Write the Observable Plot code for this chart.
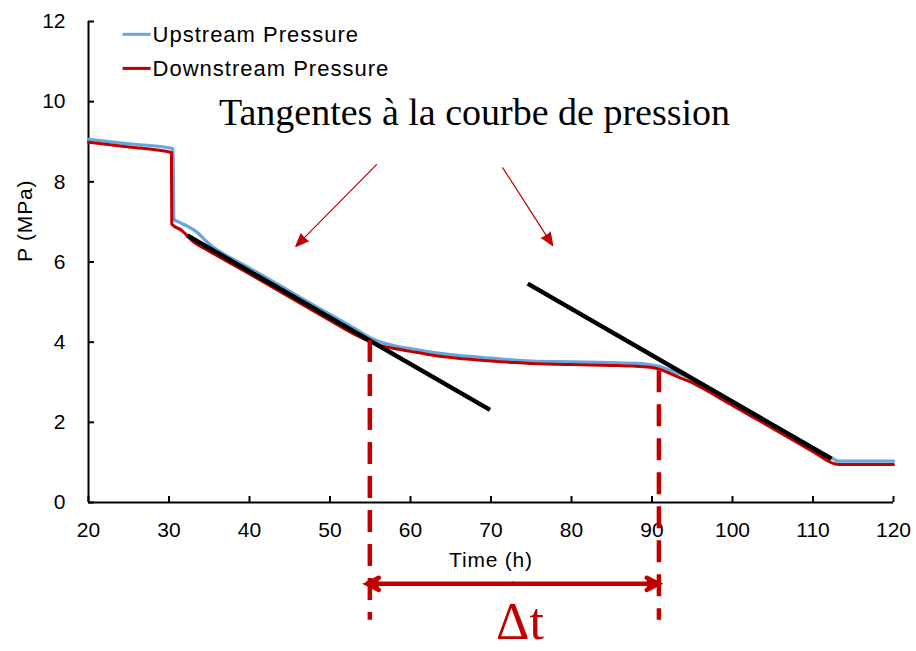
<!DOCTYPE html>
<html>
<head>
<meta charset="utf-8">
<script src="https://cdn.jsdelivr.net/npm/d3@7"></script>
<script src="https://cdn.jsdelivr.net/npm/@observablehq/plot@0.6"></script>
<style>
  html, body { margin: 0; padding: 0; background: #fff; }
  #chart svg { display: block; }
</style>
</head>
<body>
<div id="chart"></div>
<script>
// ---- Data ----
const seriesNames = ["Upstream Pressure", "Downstream Pressure"];

const upTime = [20, 25, 30.5, 30.6, 31.2, 32.2, 33.3, 35, 40, 45, 50, 53, 55, 56, 57, 58, 60, 62, 65, 67, 70, 73, 75, 80, 85, 88, 90, 91, 92, 93, 94, 95, 96, 100, 105, 110, 112.5, 113.2, 120];
const upP    = [9.06, 8.95, 8.83, 7.07, 7.0, 6.9, 6.77, 6.45, 5.85, 5.27, 4.69, 4.35, 4.11, 4.02, 3.96, 3.91, 3.84, 3.77, 3.69, 3.65, 3.60, 3.55, 3.53, 3.51, 3.49, 3.47, 3.43, 3.39, 3.32, 3.24, 3.17, 3.09, 2.98, 2.52, 1.95, 1.37, 1.09, 1.03, 1.03];

const downTime = [20, 25, 30.3, 30.35, 31.5, 33, 35, 40, 45, 50, 53, 55, 56, 57, 58, 60, 62, 65, 67, 70, 73, 75, 80, 85, 88, 90, 91, 92, 93, 94, 95, 96, 100, 105, 110, 112.6, 113.2, 120];
const downP    = [8.99, 8.87, 8.73, 6.94, 6.80, 6.51, 6.27, 5.70, 5.12, 4.54, 4.20, 4.01, 3.93, 3.88, 3.84, 3.77, 3.70, 3.62, 3.58, 3.53, 3.49, 3.47, 3.44, 3.42, 3.40, 3.37, 3.32, 3.24, 3.15, 3.07, 2.99, 2.88, 2.42, 1.85, 1.27, 0.97, 0.95, 0.95];

const xTicks = [20, 30, 40, 50, 60, 70, 80, 90, 100, 110, 120];
const yTicks = [0, 2, 4, 6, 8, 10, 12];

// tangent lines (time, pressure)
const tangentT1 = [32.28, 74.56];
const tangentP1 = [6.66, 5.46];
const tangentT2 = [69.88, 112.29];
const tangentP2 = [2.31, 1.09];

// pointer arrows from the annotation text to the tangents
const pointerT1 = [55.78, 71.46];
const pointerP1 = [8.43, 8.35];
const pointerT2 = [45.75, 77.67];
const pointerP2 = [6.39, 6.41];

// vertical markers delimiting Δt
const markerT = [54.95, 90.86];
const markerTopP = [4.04, 3.29];
const markerBottomP = -2.94;

// Δt double arrow
const deltaMidT = 72.7;
const deltaEndT = [54.6, 90.8];
const deltaP = -2.03;
const deltaLabel = "Δt";
const deltaLabelT = 73.6;
const deltaLabelP = -3.40;

// annotation text
const titleText = "Tangentes à la courbe de pression";
const titleT = 36.2;
const titleP = 9.41;

// legend anchor (time, pressure)
const legendLineT1 = 24.23;
const legendLineT2 = 27.71;
const legendTextT = 27.96;
const legendLineP = [11.68, 10.83];
const legendTextP = [11.48, 10.63];

const xLabel = "Time (h)";
const yLabel = "P (MPa)";

// ---- Build tables ----
const blue = "#69A5DE";
const red = "#C00000";
const colors = [blue, red];

const upData = upTime.map((t, i) => ({t, p: upP[i]}));
const downData = downTime.map((t, i) => ({t, p: downP[i]}));
const tangents = tangentT1.map((t, i) => ({t1: t, p1: tangentP1[i], t2: tangentT2[i], p2: tangentP2[i]}));
const pointers = pointerT1.map((t, i) => ({t1: t, p1: pointerP1[i], t2: pointerT2[i], p2: pointerP2[i]}));
const markers = markerT.map((t, i) => ({t, top: markerTopP[i], bottom: markerBottomP}));
const deltaArrows = deltaEndT.map(t => ({t1: deltaMidT, t2: t, p: deltaP}));
const legend = seriesNames.map((name, i) => ({name, color: colors[i], lp: legendLineP[i], tp: legendTextP[i]}));

const sans = "'Liberation Sans', Arial, Helvetica, sans-serif";
const serif = "'Liberation Serif', 'Times New Roman', serif";

const chart = Plot.plot({
  width: 916,
  height: 651,
  marginLeft: 88,
  marginRight: 23,
  marginTop: 21,
  marginBottom: 149,
  x: {domain: [20, 120]},
  y: {domain: [0, 12]},
  style: {fontFamily: sans, fontSize: "21px", color: "#000", background: "#fff", overflow: "visible"},
  marks: [
    Plot.axisX(xTicks, {tickSize: 6, dy: -6, tickPadding: 20, strokeWidth: 2, label: null, fontSize: 21}),
    Plot.axisY(yTicks, {tickSize: 6, dx: 6, tickPadding: 23, strokeWidth: 2, label: null, fontSize: 21}),
    Plot.ruleX([20], {strokeWidth: 2, stroke: "#000"}),
    Plot.ruleY([0], {strokeWidth: 2, stroke: "#000"}),

    Plot.line(upData, {x: "t", y: "p", stroke: blue, strokeWidth: 3.2, curve: "monotone-x"}),
    Plot.line(downData, {x: "t", y: "p", stroke: red, strokeWidth: 3, curve: "monotone-x"}),

    Plot.link(tangents, {x1: "t1", y1: "p1", x2: "t2", y2: "p2", stroke: "#000", strokeWidth: 4.5, strokeLinecap: "butt"}),

    Plot.ruleX(markers, {x: "t", y1: "top", y2: "bottom", stroke: red, strokeWidth: 4.5, strokeDasharray: "22,12"}),

    Plot.arrow(pointers, {x1: "t1", y1: "p1", x2: "t2", y2: "p2", stroke: red, fill: red, strokeWidth: 1.2, headLength: 17, headAngle: 44}),
    Plot.arrow(deltaArrows, {x1: "t1", y1: "p", x2: "t2", y2: "p", stroke: red, fill: red, strokeWidth: 4.5, headLength: 4.4, headAngle: 55, strokeLinejoin: "miter", strokeMiterlimit: 4}),

    Plot.text([titleText], {x: titleT, y: titleP, textAnchor: "start", lineAnchor: "bottom", fontFamily: serif, fontSize: 38, fill: "#000"}),
    Plot.text([deltaLabel], {x: deltaLabelT, y: deltaLabelP, textAnchor: "middle", lineAnchor: "bottom", fontFamily: serif, fontSize: 52, fill: red}),

    Plot.text([xLabel], {frameAnchor: "bottom", dy: 58, lineAnchor: "middle", fontSize: 21, fill: "#000"}),
    Plot.text([yLabel], {frameAnchor: "left", dx: -63, rotate: -90, lineAnchor: "middle", fontSize: 21, fill: "#000"}),

    Plot.link(legend, {x1: legendLineT1, x2: legendLineT2, y1: "lp", y2: "lp", stroke: "color", strokeWidth: 3}),
    Plot.text(legend, {x: legendTextT, y: "tp", text: "name", textAnchor: "start", lineAnchor: "bottom", fontSize: 22, fill: "#000"})
  ]
});

// slightly wider letter spacing on the sans labels, as in the reference
const spaced = new Set([...seriesNames, xLabel, yLabel]);
d3.select(chart).selectAll("text").each(function () {
  if (spaced.has(this.textContent)) {
    this.setAttribute("letter-spacing", this.textContent.length > 10 ? "1" : "0.8");
  }
});

document.getElementById("chart").appendChild(chart);
</script>
</body>
</html>
